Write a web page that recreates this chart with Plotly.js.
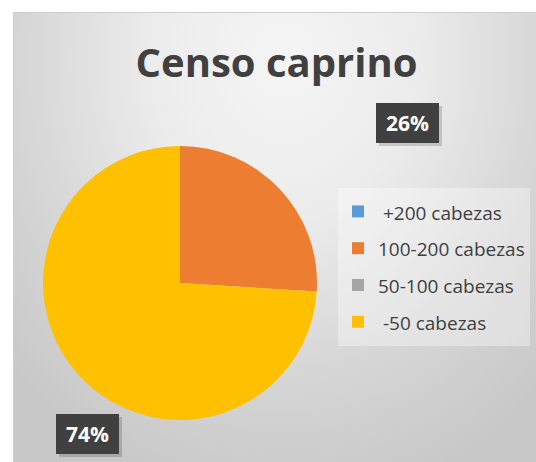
<!DOCTYPE html>
<html>
<head>
<meta charset="utf-8">
<script src="https://cdn.plot.ly/plotly-3.0.1.min.js"></script>
<style>
  html, body { margin:0; padding:0; width:536px; height:462px; overflow:hidden; background:#ffffff; }
  #frame { position:absolute; left:13px; top:12px; width:540px; height:470px;
    border:1.5px solid #cecece;
    background: radial-gradient(ellipse 70% 95% at 50% 10%, #f5f5f5 0%, #ececec 35%, #d6d6d6 70%, #c8c8c8 100%); }
  #chart { position:absolute; left:0; top:0; width:536px; height:462px; }
</style>
</head>
<body>
<div id="frame"></div>
<div id="chart"></div>
<script>
var categories = ['\u00a0+200 cabezas', '100-200 cabezas', '50-100 cabezas', '\u00a0-50 cabezas'];
var values = [0, 26, 0, 74];
var colors = ['#5b9bd5', '#ed7d31', '#a5a5a5', '#ffc000'];
var labelIndex = [1, 3];
var labelPos = [[407.5, 123], [87.5, 434]];

var total = values.reduce(function(a, b){ return a + b; }, 0);
var W = 536, H = 462;
var BW = 63, BH = 40;

var legendLabels = categories.map(function(c){
  return '<span style="font-size:19px;baseline-shift:2px">' + c + '</span>';
});

var trace = {
  type: 'pie',
  labels: legendLabels,
  values: values,
  sort: false,
  direction: 'clockwise',
  rotation: 0,
  textinfo: 'none',
  hoverinfo: 'label+percent',
  marker: { colors: colors, line: { width: 0 } },
  domain: { x: [43 / W, 317 / W], y: [1 - 420 / H, 1 - 146 / H] },
  showlegend: true
};

var annotations = [];
var shapes = [];
labelIndex.forEach(function(idx, k){
  var cx = labelPos[k][0], cy = labelPos[k][1];
  shapes.push({
    type: 'rect', xref: 'paper', yref: 'paper', layer: 'above',
    x0: (cx - BW / 2 + 3) / W, x1: (cx + BW / 2 + 3) / W,
    y0: 1 - (cy - BH / 2 + 3) / H, y1: 1 - (cy + BH / 2 + 3) / H,
    fillcolor: 'rgba(0,0,0,0.16)', line: { width: 0 }
  });
  annotations.push({
    xref: 'paper', yref: 'paper',
    x: cx / W, y: 1 - cy / H,
    xanchor: 'center', yanchor: 'middle',
    text: '<b>' + Math.round(values[idx] / total * 100) + '%</b>',
    showarrow: false,
    font: { family: 'Open Sans', size: 21, color: '#ffffff' },
    bgcolor: '#404040',
    width: BW - 4, height: BH - 4, borderpad: 2, borderwidth: 0
  });
});

var layout = {
  width: W, height: H,
  margin: { l: 0, r: 0, t: 0, b: 0 },
  paper_bgcolor: 'rgba(0,0,0,0)',
  plot_bgcolor: 'rgba(0,0,0,0)',
  font: { family: 'Open Sans', color: '#404040' },
  title: {
    text: '<b>Censo caprino</b>',
    font: { family: 'Open Sans', size: 40, color: '#404040' },
    x: 276.5 / W, xanchor: 'center',
    y: 1 - 63 / H, yanchor: 'middle'
  },
  legend: {
    x: 338 / W, xanchor: 'left',
    y: 1 - 188 / H, yanchor: 'top',
    bgcolor: 'rgba(255,255,255,0.35)',
    font: { family: 'Open Sans', size: 26, color: '#404040' },
    traceorder: 'normal'
  },
  shapes: shapes,
  annotations: annotations,
  showlegend: true
};

Plotly.newPlot('chart', [trace], layout, { displayModeBar: false, staticPlot: true });
</script>
</body>
</html>
